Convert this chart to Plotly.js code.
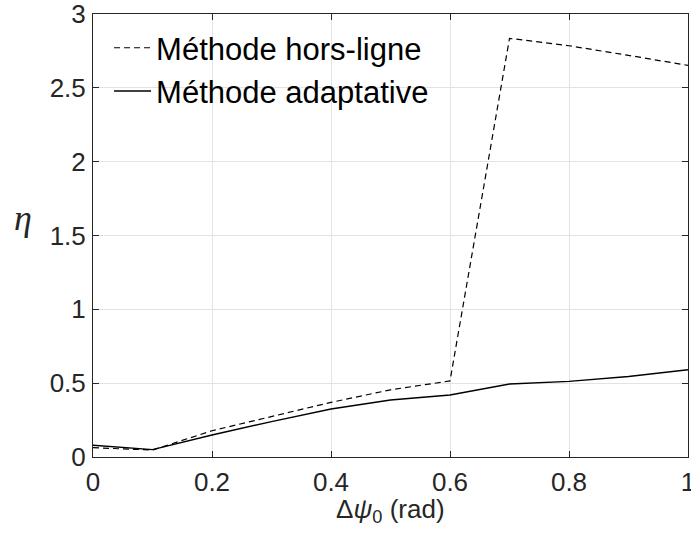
<!DOCTYPE html>
<html>
<head>
<meta charset="utf-8">
<script src="https://cdn.plot.ly/plotly-3.0.1.min.js"></script>
<style>html,body{margin:0;padding:0;background:#fff}#chart{width:691px;height:544px}</style>
</head>
<body>
<div id="chart"></div>
<script>
var deltaPsi = [0, 0.1, 0.2, 0.3, 0.4, 0.5, 0.6, 0.7, 0.8, 0.9, 1.0];
var horsLigne = [0.063, 0.047, 0.178, 0.275, 0.370, 0.455, 0.515, 2.835, 2.785, 2.72, 2.652];
var adaptative = [0.080, 0.050, 0.149, 0.240, 0.325, 0.386, 0.420, 0.494, 0.512, 0.545, 0.591];
var seriesNames = ["Méthode hors-ligne", "Méthode adaptative"];
var xTicks = [0, 0.2, 0.4, 0.6, 0.8, 1];
var yTicks = [0, 0.5, 1, 1.5, 2, 2.5, 3];
var xTitle = "Δ<i>ψ</i><sub>0</sub> (rad)";
var yTitle = "<i>η</i>";

var font = "Liberation Sans, Arial, Helvetica, sans-serif";
var traces = [
  {x: deltaPsi, y: horsLigne, name: seriesNames[0], mode: "lines",
   line: {color: "#000", width: 1.2, dash: "6px,4px"}},
  {x: deltaPsi, y: adaptative, name: seriesNames[1], mode: "lines",
   line: {color: "#000", width: 1.4}}
];
var axisCommon = {
  showline: true, linecolor: "#262626", linewidth: 1, mirror: "ticks",
  ticks: "inside", ticklen: 6, tickcolor: "#262626",
  showgrid: true, gridcolor: "#e3e3e3", gridwidth: 1, zeroline: false,
  ticklabeloverflow: "allow",
  tickfont: {family: font, size: 26, color: "#262626"}
};
var layout = {
  width: 691, height: 544,
  margin: {l: 93, r: 3, t: 14, b: 87},
  paper_bgcolor: "#fff", plot_bgcolor: "#fff",
  showlegend: true,
  legend: {x: 0.027, y: 0.984, xanchor: "left", yanchor: "top",
           bgcolor: "rgba(255,255,255,0)", borderwidth: 0, itemwidth: 37,
           font: {family: font, size: 31, color: "#000"}, tracegroupgap: 0},
  xaxis: Object.assign({}, axisCommon, {range: [0, 1], tickvals: xTicks,
    ticktext: xTicks.map(String), ticklabelstandoff: 2}),
  yaxis: Object.assign({}, axisCommon, {range: [0, 3], tickvals: yTicks,
    ticktext: yTicks.map(String), ticklabelstandoff: 1}),
  annotations: [
    {xref: "paper", yref: "paper", x: -0.1176, y: 0.5395, xanchor: "center", yanchor: "middle",
     text: yTitle, showarrow: false, font: {family: "Liberation Serif, serif", size: 36, color: "#262626"}},
    {xref: "paper", yref: "paper", x: 0.5, y: -0.079, xanchor: "center", yanchor: "top",
     text: xTitle, showarrow: false, font: {family: font, size: 26, color: "#262626"}}
  ]
};
Plotly.newPlot("chart", traces, layout, {displayModeBar: false, staticPlot: true});
</script>
</body>
</html>
